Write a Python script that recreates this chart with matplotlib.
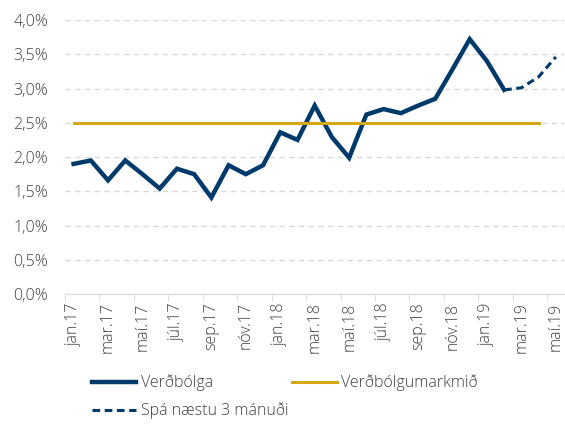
import matplotlib
matplotlib.use('Agg')
import matplotlib.pyplot as plt
import numpy as np

plt.rcParams['font.family'] = ['Open Sans', 'DejaVu Sans']

months = ['jan', 'feb', 'mar', 'apr', 'maí', 'jún', 'júl', 'ágú', 'sep', 'okt', 'nóv', 'des']
labels = [m + '.' + y for y in ['17', '18', '19'] for m in months][:29]

# verðbólga jan.17 - feb.19
inflation = [1.9, 1.95, 1.66, 1.95, 1.75, 1.54, 1.83, 1.75, 1.41, 1.88, 1.75, 1.88,
             2.36, 2.25, 2.75, 2.29, 1.99, 2.62, 2.70, 2.64, 2.75, 2.85, 3.28, 3.72,
             3.40, 2.98]
# spá feb.19 - maí.19
forecast = [2.98, 3.01, 3.17, 3.46]
target = 2.5
target_len = 28

navy = '#003A6B'
gold = '#D4A817'
grey = '#404040'

fig = plt.figure(figsize=(5.65, 4.25), dpi=100)
ax = fig.add_axes([0.115, 0.308, 0.884, 0.645])

x = np.arange(len(inflation))
xf = np.arange(len(inflation) - 1, len(inflation) - 1 + len(forecast))
xt = np.arange(target_len)

l1, = ax.plot(x, inflation, color=navy, lw=3.2, solid_joinstyle='miter', label='Verðbólga')
l2, = ax.plot(xt, [target] * target_len, color=gold, lw=2.2, label='Verðbólgumarkmið')
l3, = ax.plot(xf, forecast, color=navy, lw=2.2, ls=(0, (2.5, 1.5)), label='Spá næstu 3 mánuði')

ax.set_xlim(-0.5, 28.5)
ax.set_ylim(0, 4.0)
ax.set_yticks(np.arange(0, 4.01, 0.5))
ax.set_yticklabels([('%.1f' % v).replace('.', ',') + '%' for v in np.arange(0, 4.01, 0.5)])
ax.yaxis.grid(True, color='#D9D9D9', ls=(0, (4, 3)), lw=1)
ax.set_axisbelow(True)

ax.set_xticks(np.arange(0, 29, 2))
ax.set_xticklabels(labels[::2], rotation=90)
ax.set_xticks(np.arange(-0.5, 28.5, 2), minor=True)
ax.tick_params(axis='x', which='major', length=0, pad=6, labelsize=11.5, colors=grey)
ax.tick_params(axis='x', which='minor', length=5, color='#D9D9D9')
ax.tick_params(axis='y', length=0, pad=12, labelsize=11.5, colors=grey)
for t in ax.get_xticklabels() + ax.get_yticklabels():
    t.set_fontweight('light')

for s in ['top', 'right', 'left']:
    ax.spines[s].set_visible(False)
ax.spines['bottom'].set_color('#D9D9D9')

leg = fig.legend(handles=[l1, l3, l2], loc='upper left', bbox_to_anchor=(0.148, 0.137),
                 ncol=2, frameon=False, handlelength=2.8, handletextpad=0.3,
                 columnspacing=0.2, labelspacing=0.7, borderpad=0, labelcolor=grey,
                 prop={'weight': 'light', 'size': 11.5})

plt.savefig('out.png', dpi=100)
